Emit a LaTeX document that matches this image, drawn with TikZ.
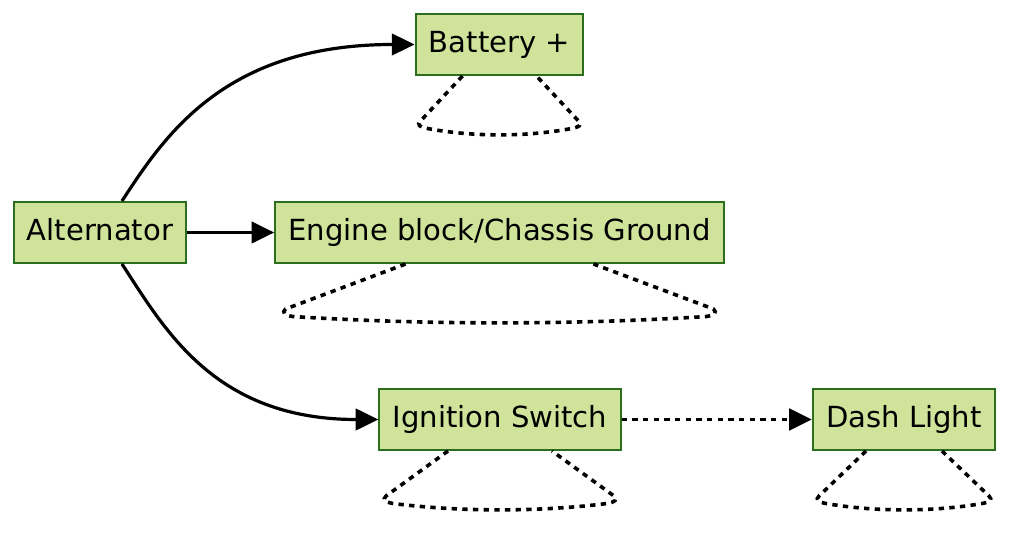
\documentclass[tikz,border=0pt]{standalone}
\usepackage{fontspec}
\setmainfont{DejaVu Sans}
\usetikzlibrary{arrows.meta}

\definecolor{boxfill}{RGB}{208,227,155}
\definecolor{boxline}{RGB}{45,110,30}

\newcommand{\selfloop}[3]{%
    \draw[loopline, shift={(#1.south)}]
        (-#2,0) -- (-#3+3,45)
        .. controls (-#3-1,49) and (-#3+2,51) .. (-#3+10,52.5)
        .. controls (-#3/3,61) and (#3/3,61) .. (#3-10,52.5)
        .. controls (#3-2,51) and (#3+1,49) .. (#3-3,45)
        -- (#2,0);%
}

\begin{document}
\begin{tikzpicture}[
                            x=0.75pt,
                            y=-0.75pt,
                            line width=2.4pt,
                            >={Triangle[length=17pt,width=16pt]}
                        ]

                        \tikzstyle{part}=[draw=boxline,fill=boxfill,line width=1.5pt,
                            minimum height=45.75pt,inner xsep=10pt,
                            text height=1.25em,text depth=0.05em,
                            font=\fontsize{21.8}{25}\selectfont]
                        \tikzstyle{wire}=[->]
                        \tikzstyle{signal}=[->,line width=2.7pt,dash pattern=on 4pt off 4pt]
                        \tikzstyle{loopline}=[line width=2.7pt,dash pattern=on 4pt off 4pt]

                        \useasboundingbox (0,0) rectangle (1024,534);

                        \node[part] (alt)  at (100,232.5)   {Alternator};
                        \node[part] (bat)  at (499.5,44.5)  {Battery +};
                        \node[part] (gnd)  at (499.5,232.5) {Engine block/Chassis Ground};
                        \node[part] (ign)  at (500,419.5)   {Ignition Switch};
                        \node[part] (dash) at (904,419.5)   {Dash Light};

                        \draw[wire] ([xshift=16.5pt]alt.north)
                            .. controls (165,135) and (225,44.5) .. (bat.west);
                        \draw[wire] ([xshift=16.5pt]alt.south)
                            .. controls (165,330) and (215,419.5) .. (ign.west);
                        \path
                        (alt) edge [wire]   (gnd)
                        (ign) edge [signal] (dash)
                        ;

                        \selfloop{bat}{37}{82}
                        \selfloop{gnd}{94}{217}
                        \selfloop{ign}{52}{117}
                        \selfloop{dash}{38}{88}
                    \end{tikzpicture}
\end{document}
